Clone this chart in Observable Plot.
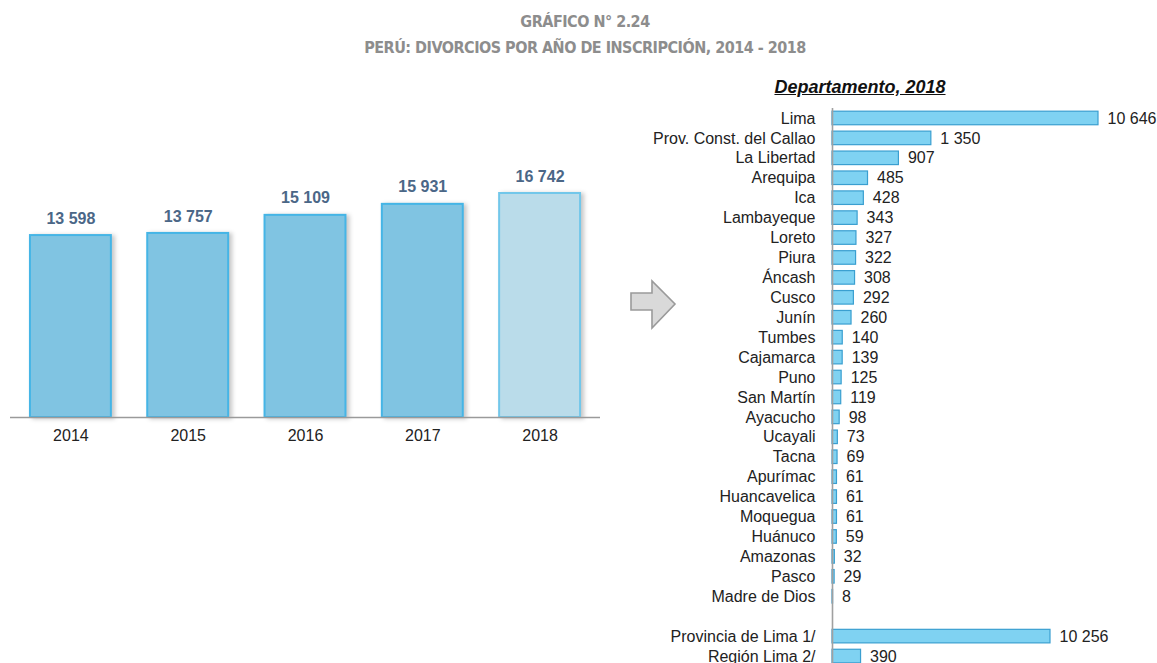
<!DOCTYPE html>
<html>
<head>
<meta charset="utf-8">
<script src="https://cdn.jsdelivr.net/npm/d3@7"></script>
<script src="https://cdn.jsdelivr.net/npm/@observablehq/plot@0.6"></script>
<style>
  html, body { margin: 0; padding: 0; background: #fff; overflow: hidden; }
  #page { position: relative; width: 1157px; height: 663px; font-family: "Liberation Sans", Arial, sans-serif; }
  .title { position: absolute; left: 285px; width: 600px; text-align: center; color: #8d8d8d;
           font-family: "Liberation Sans Narrow", "DejaVu Sans Condensed", "Liberation Sans", sans-serif;
           font-stretch: condensed; font-weight: bold; font-size: 16px; letter-spacing: -0.5px; white-space: nowrap; }
  #t1 { top: 12px; }
  #t2 { top: 38px; }
  #subt { position: absolute; left: 700px; width: 320px; top: 77px; text-align: center;
          font-weight: bold; font-style: italic; text-decoration: underline; font-size: 18px; color: #111; }
  #left { position: absolute; left: 0; top: 150px; }
  #right { position: absolute; left: 600px; top: 90px; }
  #right svg { overflow: visible; }
  #arrow { position: absolute; left: 620px; top: 270px; }
  #left g[aria-label="bar"] rect { filter: drop-shadow(3px 1px 2px rgba(0,0,0,0.22)); }
</style>
</head>
<body>
<div id="page">
  <div class="title" id="t1">GRÁFICO N° 2.24</div>
  <div class="title" id="t2">PERÚ: DIVORCIOS POR AÑO DE INSCRIPCIÓN, 2014 - 2018</div>
  <div id="subt">Departamento, 2018</div>
  <div id="left"></div>
  <svg id="arrow" width="70" height="70" viewBox="0 0 70 70">
    <polygon points="11,23 32,23 32,11 55,34 32,58 32,40 11,40" fill="#d9d9d9" stroke="#9a9a9a" stroke-width="1.6" stroke-linejoin="miter"/>
  </svg>
  <div id="right"></div>
</div>
<script>
// ---- data ----
const years = ["2014", "2015", "2016", "2017", "2018"];
const divorcios = [13598, 13757, 15109, 15931, 16742];

const departamentos = ["Lima", "Prov. Const. del Callao", "La Libertad", "Arequipa", "Ica", "Lambayeque",
  "Loreto", "Piura", "Áncash", "Cusco", "Junín", "Tumbes", "Cajamarca", "Puno", "San Martín",
  "Ayacucho", "Ucayali", "Tacna", "Apurímac", "Huancavelica", "Moquegua", "Huánuco", "Amazonas",
  "Pasco", "Madre de Dios"];
const valoresDep = [10646, 1350, 907, 485, 428, 343, 327, 322, 308, 292, 260, 140, 139, 125, 119,
  98, 73, 69, 61, 61, 61, 59, 32, 29, 8];

const limaRegiones = ["Provincia de Lima 1/", "Región Lima 2/"];
const valoresLima = [10256, 390];

// ---- helpers ----
const fmt = d3.formatLocale({decimal: ",", thousands: " ", grouping: [3], currency: ["", ""]}).format(",d");

// ---- left chart ----
const annual = years.map((y, i) => ({year: y, value: divorcios[i]}));

const left = Plot.plot({
  width: 610,
  height: 310,
  marginLeft: 10,
  marginRight: 10,
  marginTop: 43,
  marginBottom: 43,
  style: {fontFamily: "'Liberation Sans', Arial, sans-serif", background: "transparent"},
  x: {domain: years, paddingInner: 0.31, paddingOuter: 0.17, round: false, label: null},
  y: {domain: [0, d3.max(divorcios)], axis: null},
  marks: [
    Plot.barY(annual, {filter: d => d.year !== "2018", x: "year", y: "value", fill: "#80c4e2", stroke: "#45b5e6", strokeWidth: 2}),
    Plot.barY(annual, {filter: d => d.year === "2018", x: "year", y: "value", fill: "#badcea", stroke: "#72c7ea", strokeWidth: 2}),
    Plot.ruleY([0], {stroke: "#9a9a9a", strokeWidth: 1.6}),
    Plot.text(annual, {x: "year", y: "value", text: d => fmt(d.value), dy: -17, fill: "#4b6787", fontWeight: "bold", fontSize: 16}),
    Plot.axisX({tickSize: 0, tickPadding: 12, fontSize: 16, color: "#222", label: null})
  ]
});
document.getElementById("left").appendChild(left);

// ---- right chart ----
const blank = " ";
const rows = departamentos.map((d, i) => ({name: d, value: valoresDep[i]}))
  .concat(limaRegiones.map((d, i) => ({name: d, value: valoresLima[i]})));
const rowDomain = departamentos.concat([blank], limaRegiones);

const x0 = 232;
const right = Plot.plot({
  width: 557,
  height: 590,
  marginLeft: x0,
  marginRight: 0,
  marginTop: 18,
  marginBottom: 14,
  style: {fontFamily: "'Liberation Sans', Arial, sans-serif", background: "transparent", overflow: "visible"},
  // broken (piecewise) value axis, as in the original: long bars are shortened
  x: {type: "linear", domain: [0, 2950, 10256, 10646], range: [x0, x0 + 216, x0 + 218, x0 + 266], axis: null},
  y: {domain: rowDomain, paddingInner: 0.32, paddingOuter: 0.16, round: false, label: null},
  marks: [
    Plot.barX(rows, {y: "name", x: "value", fill: "#7fd2f2", stroke: "#3a9fd0", strokeWidth: 1.2}),
    Plot.ruleX([0], {stroke: "#a0a0a0", strokeWidth: 1.6}),
    Plot.text(rows, {y: "name", x: "value", text: d => fmt(d.value), dx: 9, textAnchor: "start", fontSize: 16, fill: "#222"}),
    Plot.axisY({tickSize: 0, tickPadding: 17, fontSize: 16, color: "#222", label: null})
  ]
});
document.getElementById("right").appendChild(right);
</script>
</body>
</html>
